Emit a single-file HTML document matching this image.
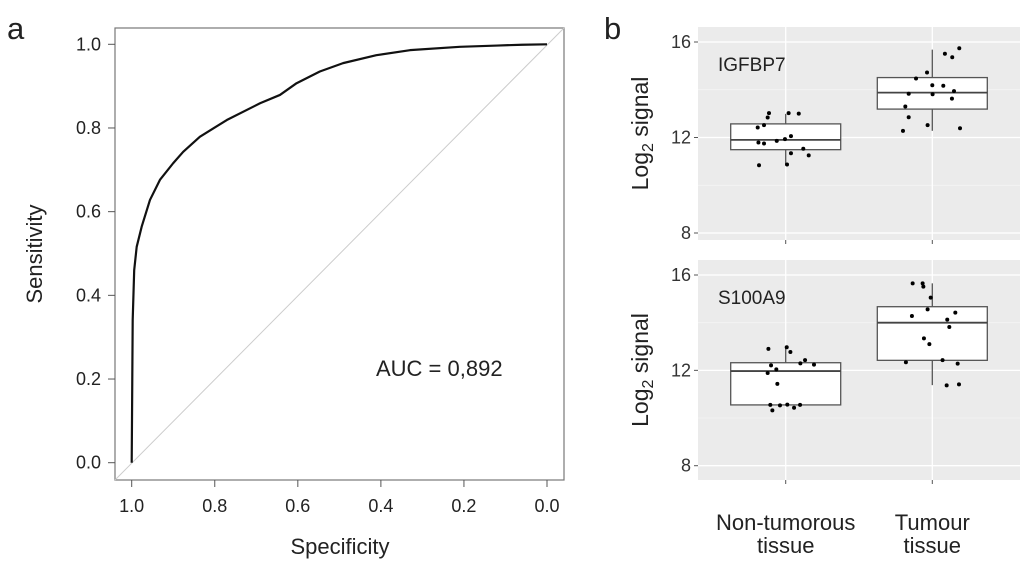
<!DOCTYPE html>
<html><head><meta charset="utf-8"><style>
body{margin:0;background:#fff;}
svg{display:block;font-family:"Liberation Sans",sans-serif;}
</style></head><body>
<svg id="c" width="1024" height="569" viewBox="0 0 1024 569"></svg>
<script>
// ROC data
const rocSpec=[1,0.9976,0.994,0.988,0.976,0.956,0.932,0.9,0.876,0.836,0.771,0.691,0.643,0.603,0.547,0.491,0.411,0.33,0.21,0.12,0.06,0];
const rocSens=[0,0.341,0.46,0.516,0.564,0.628,0.676,0.716,0.743,0.779,0.819,0.859,0.879,0.907,0.935,0.955,0.974,0.986,0.994,0.997,0.999,1];
const rocTicks=[0,0.2,0.4,0.6,0.8,1.0];
const rocTickLabels=["0.0","0.2","0.4","0.6","0.8","1.0"];
const aucLabel="AUC = 0,892";
// Box plot data
const categories=["Non-tumorous tissue","Tumour tissue"];
const genes=["IGFBP7","S100A9"];
const boxStats=[ // [whiskerLow,Q1,median,Q3,whiskerHigh]
 [[10.86,11.49,11.9,12.57,12.99],[12.28,13.19,13.88,14.51,15.68]],
 [[10.55,10.55,11.97,12.32,12.97],[11.38,12.42,14.0,14.67,15.65]]];
const ptsIGFBP7Non=[13.02,12.84,12.52,12.42,11.79,11.75,11.86,11.93,12.06,13.02,13.0,11.53,11.34,11.25,10.84,10.87];
const jitIGFBP7Non=[-.114,-.123,-.148,-.191,-.186,-.148,-.061,-.005,.036,.020,.089,.120,.036,.157,-.182,.009];
const ptsIGFBP7Tum=[15.74,15.51,15.36,14.72,14.47,14.19,14.17,13.83,13.81,13.94,13.63,13.30,12.85,12.52,12.28,12.39];
const jitIGFBP7Tum=[.184,.086,.136,-.036,-.111,0,.075,-.161,.002,.148,.134,-.184,-.161,-.032,-.2,.189];
const ptsS100Non=[12.90,12.97,12.77,12.21,12.04,11.89,12.29,12.43,12.24,11.43,10.55,10.53,10.56,10.55,10.32,10.43];
const jitS100Non=[-.118,.007,.032,-.1,-.064,-.123,.1,.132,.193,-.057,-.105,-.039,.011,.098,-.091,.057];
const ptsS100Tum=[15.65,15.65,15.51,15.05,14.56,14.28,14.42,14.13,13.82,13.34,13.10,12.43,12.34,12.28,11.37,11.41];
const jitS100Tum=[-.134,-.066,-.061,-.011,-.032,-.139,.157,.102,.116,-.057,-.02,.07,-.18,.173,.098,.182];
const yTicks=[8,12,16];

const svg=document.getElementById('c');
const NS='http://www.w3.org/2000/svg';
function mk(t,a,txt){const e=document.createElementNS(NS,t);for(const k in a)e.setAttribute(k,a[k]);if(txt!==undefined)e.textContent=txt;svg.appendChild(e);return e;}

const rx=s=>131.7+(1-s)*(547-131.7);
const ry=v=>462.7-v*(462.7-44.3);
let e=mk('text',{x:7,y:39,'font-size':31,fill:'#222'},'a');


e=mk('rect',{x:115,y:28,width:449,height:452,fill:'none',stroke:'#777','stroke-width':1.2});


e=mk('line',{x1:115,y1:480,x2:564,y2:28,stroke:'#ccc','stroke-width':1});


rocTicks.forEach((t,i)=>{
 let a=mk('line',{x1:108,x2:115,y1:ry(t),y2:ry(t),stroke:'#555'});
 
 
 a=mk('text',{x:101,y:ry(t)+6,'font-size':18,'text-anchor':'end',fill:'#222'},rocTickLabels[i]);
 
 
 a=mk('line',{x1:rx(t),x2:rx(t),y1:480,y2:487,stroke:'#555'});
 
 
 a=mk('text',{x:rx(t),y:512,'font-size':18,'text-anchor':'middle',fill:'#222'},rocTickLabels[i]);
 
 
});
e=mk('polyline',{points:rocSpec.map((s,i)=>rx(s)+','+ry(rocSens[i])).join(' '),fill:'none',stroke:'#111','stroke-width':2.2,'stroke-linejoin':'round'});


e=mk('text',{x:376,y:376,'font-size':22,fill:'#222'},aucLabel);


e=mk('text',{x:0,y:0,'font-size':22,'text-anchor':'middle',fill:'#222',transform:'translate(42,254) rotate(-90)'},'Sensitivity');


e=mk('text',{x:340,y:554,'font-size':22,'text-anchor':'middle',fill:'#222'},'Specificity');



e=mk('text',{x:604,y:39,'font-size':31,fill:'#222'},'b');


const panels=[{top:27,bot:240,y16:42,y8:233,pts:[ptsIGFBP7Non,ptsIGFBP7Tum],jit:[jitIGFBP7Non,jitIGFBP7Tum]},
              {top:260,bot:480,y16:275,y8:465.7,pts:[ptsS100Non,ptsS100Tum],jit:[jitS100Non,jitS100Tum]}];
const catX=[785.7,932.3];
const catStep=catX[1]-catX[0];
const boxW=110;
panels.forEach((p,pi)=>{
 const py=v=>p.y8+(v-8)*(p.y16-p.y8)/8;
 let a=mk('rect',{x:698,y:p.top,width:322,height:p.bot-p.top,fill:'#ebebeb'});
 
 
 [10,14].forEach(v=>{a=mk('line',{x1:698,x2:1020,y1:py(v),y2:py(v),stroke:'#f5f5f5','stroke-width':0.8});
  
  });
 yTicks.forEach(v=>{
  a=mk('line',{x1:698,x2:1020,y1:py(v),y2:py(v),stroke:'#fff','stroke-width':1.3});
  
  
  a=mk('line',{x1:694,x2:698,y1:py(v),y2:py(v),stroke:'#555'});
  
  
  a=mk('text',{x:691,y:py(v)+6,'font-size':18,'text-anchor':'end',fill:'#333'},String(v));
  
  
 });
 catX.forEach(cx=>{
  a=mk('line',{x1:cx,x2:cx,y1:p.top,y2:p.bot,stroke:'#fff','stroke-width':1.3});
  
  
  a=mk('line',{x1:cx,x2:cx,y1:p.bot,y2:p.bot+4,stroke:'#555'});
  
  
 });
 boxStats[pi].forEach((s,ci)=>{
  const cx=catX[ci];
  a=mk('line',{x1:cx,x2:cx,y1:py(s[4]),y2:py(s[0]),stroke:'#555','stroke-width':1.3});
  
  
  a=mk('rect',{x:cx-boxW/2,y:py(s[3]),width:boxW,height:py(s[1])-py(s[3]),fill:'#fff',stroke:'#555','stroke-width':1.3});
  
  
  a=mk('line',{x1:cx-boxW/2,x2:cx+boxW/2,y1:py(s[2]),y2:py(s[2]),stroke:'#444','stroke-width':1.8});
  
  
  p.pts[ci].forEach((v,k)=>{
   a=mk('circle',{cx:cx+p.jit[ci][k]*catStep,cy:py(v),r:2,fill:'#000'});
   
   
  });
 });
 a=mk('text',{x:718,y:p.top+44,'font-size':19,fill:'#222'},genes[pi]);
 
 
 a=mk('text',{x:0,y:0,'font-size':23,'text-anchor':'middle',fill:'#222',transform:'translate(648,'+((p.top+p.bot)/2)+') rotate(-90)'});
 a.innerHTML='Log<tspan font-size="16" dy="5">2</tspan><tspan dy="-5"> signal</tspan>';
 
 
});
categories.forEach((c,ci)=>{
 const l1=ci?'Tumour':'Non-tumorous', l2='tissue';
 let a=mk('text',{x:catX[ci],y:530,'font-size':22,'text-anchor':'middle',fill:'#222'},l1);
 
 
 a=mk('text',{x:catX[ci],y:553,'font-size':22,'text-anchor':'middle',fill:'#222'},l2);
 
 
});
</script>
</body></html>
